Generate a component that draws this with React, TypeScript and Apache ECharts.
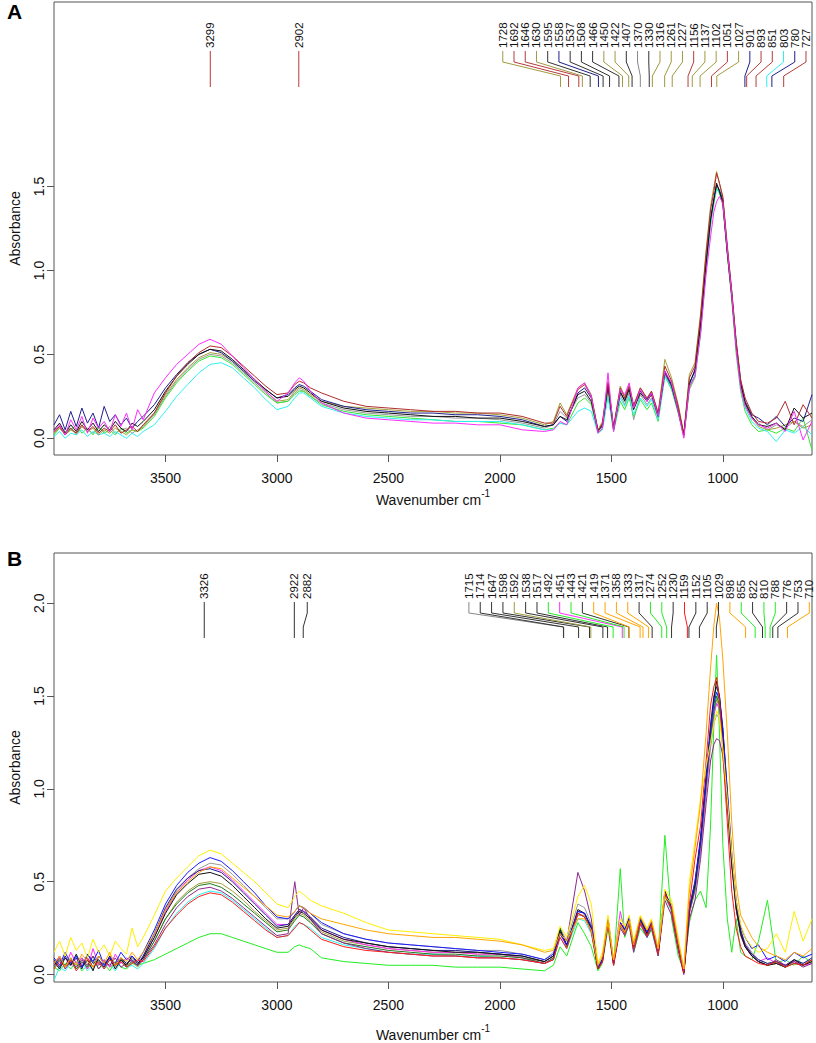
import React, { useEffect, useRef } from 'react';
import * as echarts from 'echarts';

// ---------- shared wavenumber grid (cm-1) ----------
const wavenumbers = [
  4000, 3975, 3950, 3925, 3900, 3875, 3850, 3825, 3800, 3775, 3750, 3725, 3700, 3675, 3650, 3625, 3600,
  3550, 3500, 3450, 3400, 3350, 3300, 3250, 3200, 3150, 3100, 3050, 3000,
  2950, 2920, 2900, 2880, 2850, 2800, 2700, 2600, 2500, 2400, 2300, 2200, 2100, 2000, 1900, 1800,
  1760, 1730, 1700, 1650, 1620, 1590, 1560, 1540, 1515, 1490,
  1460, 1440, 1420, 1400, 1370, 1340, 1320, 1290, 1260, 1230,
  1200, 1175, 1150, 1125, 1100, 1075, 1055, 1040, 1028, 1015,
  1000, 980, 960, 940, 920, 900, 870, 840, 800, 760,
  720, 680, 640, 600,
];

const xTicks = [3500, 3000, 2500, 2000, 1500, 1000];
const yTicksA = [0, 0.5, 1.0, 1.5];
const yTicksB = [0, 0.5, 1.0, 1.5, 2.0];

// ---------- Panel A spectra ----------
const A_gray = [
  0.03, 0.07, 0.04, 0.06, 0.02, 0.07, 0.05, 0.03, 0.06, 0.04, 0.07, 0.03, 0.05, 0.06, 0.03, 0.05, 0.07,
  0.14, 0.25, 0.34, 0.41, 0.47, 0.50, 0.49, 0.45, 0.39, 0.33, 0.27, 0.21,
  0.22, 0.27, 0.29, 0.28, 0.25, 0.21, 0.17, 0.15, 0.14, 0.13, 0.13, 0.12, 0.12, 0.11, 0.09, 0.06,
  0.08, 0.16, 0.12, 0.24, 0.26, 0.21, 0.04, 0.08, 0.28, 0.05,
  0.26, 0.20, 0.27, 0.11, 0.26, 0.20, 0.24, 0.12, 0.38, 0.30,
  0.15, 0.01, 0.29, 0.36, 0.63, 1.02, 1.29, 1.42, 1.51, 1.47,
  1.40, 1.11, 0.84, 0.54, 0.31, 0.20, 0.12, 0.09, 0.05, 0.08,
  0.06, 0.10, 0.07, 0.11,
];
const A_green = [
  0.02, 0.06, 0.03, 0.05, 0.08, 0.03, 0.06, 0.02, 0.07, 0.03, 0.05, 0.02, 0.06, 0.03, 0.05, 0.04, 0.06,
  0.13, 0.24, 0.33, 0.40, 0.46, 0.49, 0.48, 0.44, 0.38, 0.32, 0.26, 0.21,
  0.22, 0.26, 0.28, 0.28, 0.25, 0.20, 0.16, 0.14, 0.13, 0.12, 0.11, 0.10, 0.10, 0.09, 0.08, 0.05,
  0.06, 0.09, 0.08, 0.21, 0.24, 0.20, 0.03, 0.06, 0.26, 0.04,
  0.22, 0.17, 0.24, 0.13, 0.23, 0.17, 0.21, 0.10, 0.37, 0.29,
  0.15, 0.01, 0.30, 0.37, 0.62, 1.00, 1.27, 1.40, 1.49, 1.46,
  1.39, 1.10, 0.82, 0.50, 0.28, 0.16, 0.08, 0.04, 0.05, 0.03,
  0.06, 0.04, 0.12, -0.07,
];
const A_cyan = [
  0.01, 0.04, 0.00, 0.03, 0.02, 0.05, 0.01, 0.04, 0.02, 0.03, 0.01, 0.04, 0.02, 0.00, 0.03, 0.01, 0.04,
  0.08, 0.16, 0.25, 0.32, 0.39, 0.44, 0.45, 0.42, 0.36, 0.30, 0.23, 0.17,
  0.19, 0.24, 0.27, 0.27, 0.24, 0.19, 0.15, 0.13, 0.12, 0.11, 0.11, 0.10, 0.10, 0.10, 0.08, 0.05,
  0.05, 0.09, 0.08, 0.16, 0.18, 0.16, 0.03, 0.05, 0.25, 0.05,
  0.24, 0.19, 0.25, 0.14, 0.24, 0.19, 0.23, 0.11, 0.37, 0.30,
  0.16, 0.02, 0.31, 0.38, 0.64, 1.02, 1.28, 1.41, 1.48, 1.47,
  1.42, 1.14, 0.86, 0.53, 0.30, 0.18, 0.10, 0.06, 0.04, -0.02,
  0.05, 0.03, 0.07, 0.02,
];
const A_olive = [
  0.03, 0.06, 0.02, 0.05, 0.03, 0.07, 0.04, 0.06, 0.02, 0.05, 0.03, 0.06, 0.04, 0.02, 0.05, 0.04, 0.07,
  0.15, 0.26, 0.35, 0.42, 0.48, 0.51, 0.50, 0.46, 0.40, 0.34, 0.28, 0.22,
  0.23, 0.28, 0.30, 0.29, 0.26, 0.22, 0.19, 0.18, 0.17, 0.16, 0.16, 0.15, 0.15, 0.14, 0.12, 0.08,
  0.10, 0.21, 0.14, 0.30, 0.33, 0.26, 0.05, 0.10, 0.34, 0.07,
  0.31, 0.25, 0.32, 0.20, 0.30, 0.23, 0.28, 0.15, 0.47, 0.36,
  0.20, 0.03, 0.38, 0.45, 0.74, 1.12, 1.38, 1.50, 1.59, 1.52,
  1.43, 1.12, 0.85, 0.55, 0.32, 0.21, 0.12, 0.07, 0.05, 0.06,
  0.08, 0.10, 0.06, 0.08,
];
const A_navy = [
  0.08, 0.14, 0.05, 0.16, 0.07, 0.18, 0.09, 0.15, 0.06, 0.19, 0.10, 0.14, 0.08, 0.12, 0.06, 0.10, 0.13,
  0.20, 0.30, 0.38, 0.45, 0.50, 0.53, 0.51, 0.46, 0.40, 0.34, 0.29, 0.24,
  0.26, 0.30, 0.32, 0.31, 0.28, 0.23, 0.19, 0.17, 0.16, 0.15, 0.15, 0.14, 0.14, 0.13, 0.11, 0.07,
  0.08, 0.13, 0.10, 0.27, 0.30, 0.24, 0.05, 0.07, 0.31, 0.05,
  0.27, 0.23, 0.30, 0.19, 0.28, 0.23, 0.27, 0.14, 0.39, 0.31,
  0.16, 0.02, 0.32, 0.41, 0.67, 1.04, 1.31, 1.43, 1.51, 1.48,
  1.42, 1.13, 0.87, 0.57, 0.34, 0.22, 0.14, 0.12, 0.08, 0.13,
  0.07, 0.12, 0.10, 0.26,
];
const A_black = [
  0.05, 0.09, 0.03, 0.08, 0.04, 0.10, 0.05, 0.09, 0.04, 0.08, 0.05, 0.10, 0.06, 0.04, 0.09, 0.07, 0.10,
  0.17, 0.28, 0.37, 0.44, 0.50, 0.53, 0.52, 0.47, 0.41, 0.35, 0.29, 0.24,
  0.25, 0.29, 0.31, 0.30, 0.27, 0.22, 0.18, 0.16, 0.15, 0.14, 0.13, 0.13, 0.12, 0.12, 0.10, 0.07,
  0.08, 0.13, 0.11, 0.26, 0.28, 0.22, 0.04, 0.08, 0.32, 0.06,
  0.28, 0.22, 0.29, 0.17, 0.27, 0.22, 0.26, 0.13, 0.40, 0.32,
  0.17, 0.02, 0.33, 0.40, 0.68, 1.05, 1.30, 1.42, 1.52, 1.47,
  1.40, 1.10, 0.85, 0.55, 0.32, 0.21, 0.13, 0.08, 0.07, 0.09,
  0.05, 0.18, 0.12, 0.15,
];
const A_darkred = [
  0.04, 0.07, 0.02, 0.06, 0.03, 0.08, 0.04, 0.07, 0.03, 0.06, 0.04, 0.08, 0.03, 0.05, 0.07, 0.04, 0.08,
  0.15, 0.27, 0.37, 0.45, 0.51, 0.55, 0.54, 0.49, 0.43, 0.37, 0.31, 0.26,
  0.27, 0.32, 0.34, 0.33, 0.30, 0.27, 0.22, 0.19, 0.18, 0.17, 0.16, 0.16, 0.15, 0.15, 0.13, 0.09,
  0.09, 0.19, 0.13, 0.29, 0.32, 0.25, 0.04, 0.09, 0.33, 0.06,
  0.30, 0.24, 0.31, 0.19, 0.30, 0.24, 0.28, 0.15, 0.43, 0.34,
  0.19, 0.02, 0.36, 0.43, 0.72, 1.10, 1.36, 1.47, 1.58, 1.52,
  1.44, 1.15, 0.88, 0.58, 0.35, 0.24, 0.15, 0.10, 0.09, 0.12,
  0.22, 0.08, 0.20, 0.12,
];
const A_magenta = [
  0.04, 0.08, 0.02, 0.11, 0.05, 0.13, 0.03, 0.12, 0.06, 0.10, 0.04, 0.14, 0.07, 0.15, 0.05, 0.17, 0.11,
  0.27, 0.36, 0.44, 0.50, 0.56, 0.59, 0.56, 0.49, 0.42, 0.35, 0.28, 0.22,
  0.27, 0.33, 0.36, 0.34, 0.28, 0.21, 0.15, 0.12, 0.11, 0.10, 0.09, 0.09, 0.08, 0.08, 0.05, 0.04,
  0.05, 0.10, 0.08, 0.30, 0.33, 0.25, 0.03, 0.06, 0.39, 0.04,
  0.29, 0.26, 0.33, 0.18, 0.29, 0.22, 0.27, 0.13, 0.40, 0.33,
  0.16, 0.00, 0.31, 0.37, 0.62, 0.98, 1.20, 1.35, 1.41, 1.44,
  1.40, 1.12, 0.85, 0.53, 0.30, 0.19, 0.12, 0.08, 0.06, 0.09,
  0.04, 0.16, -0.01, 0.10,
];

// ---------- Panel B spectra ----------
const B_lime = [
  0.04, 0.02, 0.06, 0.03, 0.07, 0.02, 0.05, 0.08, 0.03, 0.06, 0.02, 0.07, 0.04, 0.03, 0.06, 0.05, 0.06,
  0.08, 0.11, 0.14, 0.17, 0.20, 0.22, 0.22, 0.20, 0.18, 0.16, 0.14, 0.12,
  0.12, 0.15, 0.16, 0.15, 0.14, 0.09, 0.07, 0.06, 0.05, 0.05, 0.05, 0.04, 0.04, 0.04, 0.03, 0.02,
  0.05, 0.15, 0.10, 0.28, 0.22, 0.15, 0.02, 0.06, 0.25, 0.05,
  0.57, 0.20, 0.27, 0.12, 0.25, 0.20, 0.24, 0.10, 0.75, 0.30,
  0.10, 0.02, 0.28, 0.40, 0.45, 0.36, 0.80, 1.35, 1.72, 1.30,
  0.70, 0.30, 0.12, 0.30, 0.12, 0.10, 0.08, 0.18, 0.40, 0.06,
  0.08, 0.05, 0.10, 0.06,
];
const B_cyan = [
  -0.03, 0.04, 0.02, 0.06, 0.03, 0.07, 0.02, 0.05, 0.08, 0.03, 0.06, 0.02, 0.07, 0.04, 0.05, 0.03, 0.06,
  0.14, 0.25, 0.33, 0.39, 0.43, 0.45, 0.44, 0.40, 0.35, 0.30, 0.25, 0.20,
  0.21, 0.26, 0.28, 0.27, 0.25, 0.20, 0.16, 0.14, 0.12, 0.11, 0.11, 0.10, 0.10, 0.09, 0.08, 0.06,
  0.08, 0.20, 0.14, 0.30, 0.29, 0.22, 0.03, 0.07, 0.28, 0.05,
  0.26, 0.22, 0.28, 0.13, 0.28, 0.20, 0.26, 0.10, 0.42, 0.34,
  0.14, 0.01, 0.33, 0.45, 0.66, 1.00, 1.27, 1.40, 1.46, 1.44,
  1.30, 0.97, 0.62, 0.37, 0.23, 0.16, 0.10, 0.07, 0.05, 0.06,
  0.04, 0.07, 0.05, 0.07,
];
const B_gray = [
  0.06, 0.10, 0.04, 0.08, 0.05, 0.09, 0.06, 0.03, 0.08, 0.05, 0.10, 0.04, 0.07, 0.05, 0.09, 0.06, 0.10,
  0.22, 0.35, 0.45, 0.52, 0.57, 0.60, 0.59, 0.54, 0.48, 0.42, 0.36, 0.30,
  0.30, 0.34, 0.37, 0.36, 0.33, 0.27, 0.22, 0.19, 0.17, 0.16, 0.15, 0.14, 0.13, 0.13, 0.11, 0.08,
  0.12, 0.25, 0.18, 0.38, 0.36, 0.27, 0.04, 0.09, 0.30, 0.07,
  0.28, 0.24, 0.30, 0.16, 0.30, 0.23, 0.28, 0.13, 0.44, 0.36,
  0.16, 0.02, 0.33, 0.45, 0.66, 0.98, 1.22, 1.35, 1.40, 1.38,
  1.26, 0.95, 0.62, 0.38, 0.24, 0.17, 0.12, 0.08, 0.06, 0.07,
  0.05, 0.08, 0.06, 0.08,
];
const B_olive = [
  0.05, 0.08, 0.04, 0.07, 0.05, 0.09, 0.03, 0.07, 0.05, 0.08, 0.04, 0.06, 0.08, 0.05, 0.07, 0.04, 0.08,
  0.18, 0.30, 0.39, 0.45, 0.49, 0.50, 0.49, 0.45, 0.40, 0.34, 0.29, 0.24,
  0.25, 0.30, 0.33, 0.32, 0.29, 0.23, 0.18, 0.16, 0.14, 0.13, 0.12, 0.12, 0.11, 0.11, 0.09, 0.07,
  0.10, 0.23, 0.16, 0.32, 0.32, 0.26, 0.03, 0.08, 0.29, 0.06,
  0.27, 0.23, 0.29, 0.14, 0.29, 0.21, 0.27, 0.11, 0.42, 0.35,
  0.14, 0.01, 0.34, 0.47, 0.70, 1.02, 1.28, 1.42, 1.48, 1.44,
  1.28, 0.95, 0.61, 0.36, 0.23, 0.16, 0.10, 0.07, 0.05, 0.06,
  0.04, 0.07, 0.05, 0.07,
];
const B_magenta = [
  0.05, 0.10, 0.04, 0.12, 0.06, 0.09, 0.03, 0.14, 0.05, 0.08, 0.04, 0.11, 0.06, 0.09, 0.07, 0.05, 0.09,
  0.20, 0.34, 0.44, 0.51, 0.56, 0.58, 0.56, 0.51, 0.45, 0.39, 0.33, 0.27,
  0.27, 0.32, 0.35, 0.34, 0.31, 0.24, 0.19, 0.16, 0.14, 0.13, 0.12, 0.12, 0.11, 0.11, 0.09, 0.06,
  0.09, 0.22, 0.15, 0.33, 0.31, 0.24, 0.03, 0.07, 0.28, 0.06,
  0.34, 0.23, 0.29, 0.14, 0.29, 0.21, 0.27, 0.11, 0.43, 0.35,
  0.14, 0.01, 0.33, 0.46, 0.68, 1.00, 1.26, 1.40, 1.46, 1.43,
  1.28, 0.96, 0.62, 0.37, 0.23, 0.16, 0.11, 0.07, 0.09, 0.06,
  0.05, 0.07, 0.05, 0.06,
];
const B_darkgreen = [
  0.04, 0.08, 0.05, 0.09, 0.03, 0.07, 0.04, 0.10, 0.06, 0.04, 0.08, 0.05, 0.09, 0.04, 0.07, 0.05, 0.08,
  0.18, 0.30, 0.38, 0.44, 0.48, 0.49, 0.47, 0.43, 0.38, 0.33, 0.28, 0.23,
  0.24, 0.29, 0.32, 0.31, 0.28, 0.22, 0.17, 0.15, 0.13, 0.12, 0.11, 0.11, 0.10, 0.10, 0.09, 0.06,
  0.09, 0.25, 0.15, 0.33, 0.31, 0.24, 0.03, 0.07, 0.29, 0.06,
  0.27, 0.23, 0.29, 0.14, 0.29, 0.21, 0.27, 0.11, 0.43, 0.35,
  0.14, 0.01, 0.34, 0.46, 0.70, 1.02, 1.28, 1.42, 1.50, 1.45,
  1.28, 0.94, 0.60, 0.35, 0.22, 0.15, 0.10, 0.07, 0.05, 0.07,
  0.04, 0.06, 0.05, 0.08,
];
const B_navy = [
  0.08, 0.04, 0.10, 0.05, 0.09, 0.03, 0.11, 0.06, 0.08, 0.04, 0.10, 0.05, 0.09, 0.06, 0.08, 0.05, 0.10,
  0.22, 0.36, 0.46, 0.52, 0.56, 0.57, 0.55, 0.50, 0.44, 0.38, 0.32, 0.26,
  0.27, 0.32, 0.35, 0.34, 0.31, 0.25, 0.20, 0.17, 0.15, 0.14, 0.13, 0.13, 0.12, 0.11, 0.10, 0.07,
  0.10, 0.23, 0.16, 0.34, 0.33, 0.25, 0.03, 0.08, 0.30, 0.06,
  0.28, 0.24, 0.30, 0.15, 0.30, 0.22, 0.28, 0.12, 0.44, 0.36,
  0.15, 0.01, 0.36, 0.50, 0.74, 1.07, 1.35, 1.50, 1.55, 1.50,
  1.33, 0.98, 0.63, 0.38, 0.24, 0.16, 0.11, 0.08, 0.06, 0.07,
  0.05, 0.08, 0.06, 0.09,
];
const B_purple = [
  0.05, 0.09, 0.03, 0.07, 0.04, 0.08, 0.05, 0.10, 0.03, 0.07, 0.05, 0.09, 0.04, 0.06, 0.08, 0.05, 0.08,
  0.16, 0.27, 0.36, 0.42, 0.46, 0.47, 0.45, 0.41, 0.36, 0.31, 0.26, 0.21,
  0.22, 0.50, 0.32, 0.36, 0.30, 0.22, 0.17, 0.14, 0.12, 0.11, 0.10, 0.10, 0.09, 0.09, 0.08, 0.06,
  0.08, 0.22, 0.18, 0.55, 0.45, 0.30, 0.03, 0.07, 0.27, 0.05,
  0.25, 0.21, 0.27, 0.12, 0.27, 0.20, 0.25, 0.10, 0.40, 0.32,
  0.13, 0.00, 0.30, 0.40, 0.62, 0.92, 1.15, 1.24, 1.27, 1.26,
  1.18, 0.90, 0.58, 0.35, 0.21, 0.15, 0.10, 0.07, 0.05, 0.08,
  0.05, 0.07, 0.04, 0.06,
];
const B_black = [
  0.07, 0.03, 0.09, 0.05, 0.11, 0.04, 0.08, 0.02, 0.10, 0.06, 0.09, 0.03, 0.08, 0.05, 0.10, 0.06, 0.09,
  0.20, 0.33, 0.43, 0.49, 0.54, 0.55, 0.53, 0.48, 0.42, 0.36, 0.30, 0.25,
  0.26, 0.31, 0.34, 0.33, 0.30, 0.24, 0.19, 0.17, 0.15, 0.14, 0.13, 0.12, 0.12, 0.11, 0.10, 0.07,
  0.10, 0.24, 0.16, 0.35, 0.33, 0.25, 0.03, 0.08, 0.30, 0.06,
  0.28, 0.24, 0.30, 0.15, 0.30, 0.22, 0.28, 0.12, 0.45, 0.36,
  0.15, 0.01, 0.35, 0.48, 0.72, 1.05, 1.32, 1.48, 1.58, 1.50,
  1.30, 0.95, 0.60, 0.36, 0.22, 0.15, 0.10, 0.07, 0.05, 0.06,
  0.04, 0.08, 0.05, 0.07,
];
const B_blue = [
  0.09, 0.05, 0.12, 0.06, 0.10, 0.04, 0.11, 0.07, 0.13, 0.05, 0.09, 0.06, 0.12, 0.08, 0.10, 0.07, 0.12,
  0.24, 0.38, 0.48, 0.55, 0.60, 0.63, 0.61, 0.56, 0.50, 0.44, 0.37, 0.31,
  0.30, 0.34, 0.37, 0.36, 0.33, 0.28, 0.22, 0.19, 0.17, 0.16, 0.15, 0.14, 0.13, 0.12, 0.11, 0.08,
  0.11, 0.22, 0.16, 0.34, 0.33, 0.26, 0.04, 0.08, 0.30, 0.07,
  0.28, 0.24, 0.31, 0.16, 0.30, 0.23, 0.28, 0.12, 0.44, 0.36,
  0.15, 0.02, 0.36, 0.50, 0.72, 1.05, 1.32, 1.46, 1.52, 1.48,
  1.32, 1.00, 0.66, 0.40, 0.26, 0.20, 0.14, 0.16, 0.08, 0.10,
  0.07, 0.12, 0.09, 0.11,
];
const B_red = [
  0.03, 0.07, 0.04, 0.08, 0.02, 0.06, 0.09, 0.04, 0.07, 0.03, 0.08, 0.05, 0.07, 0.04, 0.06, 0.08, 0.07,
  0.15, 0.25, 0.32, 0.38, 0.42, 0.44, 0.43, 0.39, 0.34, 0.29, 0.24, 0.20,
  0.21, 0.25, 0.28, 0.27, 0.24, 0.19, 0.15, 0.13, 0.12, 0.11, 0.10, 0.10, 0.09, 0.09, 0.08, 0.06,
  0.08, 0.20, 0.14, 0.33, 0.31, 0.23, 0.03, 0.07, 0.29, 0.05,
  0.27, 0.22, 0.29, 0.14, 0.28, 0.21, 0.27, 0.11, 0.44, 0.35,
  0.14, 0.01, 0.38, 0.62, 0.80, 1.15, 1.45, 1.55, 1.60, 1.48,
  1.20, 0.82, 0.45, 0.25, 0.15, 0.10, 0.08, 0.06, 0.05, 0.07,
  0.04, 0.06, 0.05, 0.08,
];
const B_yellow = [
  0.12, 0.18, 0.10, 0.20, 0.13, 0.17, 0.09, 0.19, 0.12, 0.16, 0.10, 0.18, 0.14, 0.11, 0.25, 0.15, 0.20,
  0.32, 0.45, 0.52, 0.58, 0.64, 0.67, 0.65, 0.60, 0.55, 0.50, 0.44, 0.38,
  0.36, 0.42, 0.45, 0.43, 0.40, 0.37, 0.33, 0.28, 0.24, 0.23, 0.22, 0.21, 0.20, 0.19, 0.16, 0.13,
  0.14, 0.26, 0.20, 0.42, 0.48, 0.38, 0.06, 0.12, 0.32, 0.08,
  0.30, 0.26, 0.32, 0.18, 0.32, 0.25, 0.30, 0.14, 0.46, 0.40,
  0.20, 0.03, 0.50, 0.72, 0.95, 1.12, 1.25, 1.35, 1.42, 1.38,
  1.22, 0.95, 0.65, 0.40, 0.27, 0.20, 0.15, 0.12, 0.14, 0.22,
  0.12, 0.34, 0.18, 0.30,
];
const B_orange = [
  0.06, 0.10, 0.04, 0.09, 0.05, 0.11, 0.07, 0.04, 0.10, 0.06, 0.12, 0.05, 0.09, 0.07, 0.12, 0.08, 0.12,
  0.22, 0.35, 0.44, 0.50, 0.55, 0.58, 0.57, 0.52, 0.47, 0.42, 0.37, 0.32,
  0.31, 0.34, 0.37, 0.36, 0.33, 0.30, 0.27, 0.24, 0.22, 0.21, 0.20, 0.20, 0.19, 0.18, 0.16, 0.12,
  0.13, 0.22, 0.18, 0.30, 0.30, 0.24, 0.05, 0.10, 0.28, 0.08,
  0.27, 0.23, 0.29, 0.16, 0.31, 0.24, 0.29, 0.14, 0.42, 0.38,
  0.18, 0.03, 0.45, 0.68, 0.92, 1.30, 1.65, 1.88, 2.00, 1.92,
  1.70, 1.30, 0.82, 0.48, 0.32, 0.27, 0.20, 0.15, 0.12, 0.10,
  0.08, 0.12, 0.10, 0.14,
];

// ---------- peak annotations ----------
const peaksA_left1 = [3299];
const peaksA_left2 = [2902];
const peaksA_right = [1728, 1692, 1646, 1630, 1595, 1558, 1537, 1508, 1466, 1450, 1422, 1407, 1370, 1330, 1316, 1261, 1227, 1156, 1137, 1102, 1051, 1027, 901, 893, 851, 803, 780, 727];
const peakColorsA_right = ['olive', 'darkred', 'darkred', 'olive', 'black', 'navy', 'black', 'black', 'black', 'olive', 'olive', 'black', 'gray', 'black', 'olive', 'olive', 'olive', 'darkred', 'olive', 'olive', 'darkred', 'olive', 'navy', 'darkred', 'darkred', 'cyan', 'navy', 'darkred'];

const peaksB_left1 = [3326];
const peaksB_left2 = [2922, 2882];
const peaksB_right = [1715, 1714, 1647, 1598, 1592, 1538, 1517, 1492, 1451, 1443, 1421, 1419, 1371, 1358, 1333, 1317, 1274, 1252, 1230, 1159, 1152, 1105, 1029, 898, 855, 822, 810, 788, 776, 753, 710];
const peakColorsB_right = ['gray', 'black', 'black', 'black', 'olive', 'black', 'black', 'lime', 'magenta', 'lime', 'black', 'orange', 'orange', 'orange', 'orange', 'black', 'lime', 'lime', 'black', 'red', 'black', 'black', 'black', 'orange', 'lime', 'black', 'lime', 'lime', 'black', 'black', 'orange'];

// ---------- styles / layout ----------
const FONT = '"Liberation Sans", Arial, Helvetica, sans-serif';
const lineColors: Record<string, string> = {
  black: '#111111', gray: '#999999', navy: '#1f1f8f', darkred: '#b22b2b', olive: '#a39e3a',
  green: '#33e833', cyan: '#2ef0f0', magenta: '#ff2bff', lime: '#22ee22', red: '#ff1a1a',
  blue: '#1a1aff', yellow: '#ffee00', orange: '#ffa500', purple: '#8b2a8b', darkgreen: '#1f7a1f',
};
const leaderColors: Record<string, string> = {
  ...lineColors, black: '#333333', gray: '#888888', darkred: '#b83a3a', olive: '#a09a40',
};

const layout = {
  left: 52, right: 4,
  A: { top: 2, height: 453, yMin: -0.1, yMax: 2.6, nameGap: 33 },
  B: { top: 553, height: 431, yMin: -0.04, yMax: 2.27, nameGap: 41 },
  leader: { textBottom: 46, lineTop: 49, bend1: 60, bend2: 74, bottom: 85 },
};

const seriesA = [
  { name: 'A-gray', color: 'gray', values: A_gray },
  { name: 'A-green', color: 'green', values: A_green },
  { name: 'A-cyan', color: 'cyan', values: A_cyan },
  { name: 'A-olive', color: 'olive', values: A_olive },
  { name: 'A-navy', color: 'navy', values: A_navy },
  { name: 'A-black', color: 'black', values: A_black },
  { name: 'A-darkred', color: 'darkred', values: A_darkred },
  { name: 'A-magenta', color: 'magenta', values: A_magenta },
];
const seriesB = [
  { name: 'B-lime', color: 'lime', values: B_lime },
  { name: 'B-cyan', color: 'cyan', values: B_cyan },
  { name: 'B-gray', color: 'gray', values: B_gray },
  { name: 'B-olive', color: 'olive', values: B_olive },
  { name: 'B-magenta', color: 'magenta', values: B_magenta },
  { name: 'B-darkgreen', color: 'darkgreen', values: B_darkgreen },
  { name: 'B-navy', color: 'navy', values: B_navy },
  { name: 'B-purple', color: 'purple', values: B_purple },
  { name: 'B-black', color: 'black', values: B_black },
  { name: 'B-blue', color: 'blue', values: B_blue },
  { name: 'B-red', color: 'red', values: B_red },
  { name: 'B-yellow', color: 'yellow', values: B_yellow },
  { name: 'B-orange', color: 'orange', values: B_orange },
];

// label spans (data units along x) for spread-out peak labels
const peakGroupsA = [
  { peaks: peaksA_left1, colors: ['darkred'], span: null as null | number[] },
  { peaks: peaksA_left2, colors: ['darkred'], span: null as null | number[] },
  { peaks: peaksA_right, colors: peakColorsA_right, span: [1987, 627] },
];
const peakGroupsB = [
  { peaks: peaksB_left1, colors: ['black'], span: null as null | number[] },
  { peaks: peaksB_left2, colors: ['black', 'black'], span: [2922, 2864] },
  { peaks: peaksB_right, colors: peakColorsB_right, span: [2139, 612] },
];

function buildPeakItems(groups: typeof peakGroupsA) {
  const items: { labelW: number; peakW: number; color: string; text: string }[] = [];
  groups.forEach((g) => {
    const n = g.peaks.length;
    g.peaks.forEach((p, i) => {
      let lw = p;
      if (g.span) lw = n > 1 ? g.span[0] + (i * (g.span[1] - g.span[0])) / (n - 1) : g.span[0];
      items.push({ labelW: lw, peakW: p, color: leaderColors[g.colors[i]] || '#333', text: String(p) });
    });
  });
  return items;
}

function peakSeries(groups: typeof peakGroupsA, idx: number) {
  const items = buildPeakItems(groups);
  const L = layout.leader;
  return {
    type: 'custom',
    xAxisIndex: idx,
    yAxisIndex: idx,
    silent: true,
    clip: false,
    z: 10,
    data: items.map((it) => [it.labelW, it.peakW]),
    renderItem: (params: any, api: any) => {
      const it = items[params.dataIndex];
      const lx = api.coord([api.value(0), 0])[0];
      const px = api.coord([api.value(1), 0])[0];
      const top = params.coordSys.y;
      return {
        type: 'group',
        children: [
          {
            type: 'polyline',
            shape: { points: [[lx, top + L.lineTop], [lx, top + L.bend1], [px, top + L.bend2], [px, top + L.bottom]] },
            style: { stroke: it.color, lineWidth: 1, fill: null },
          },
          {
            type: 'text',
            x: lx,
            y: top + L.textBottom,
            rotation: Math.PI / 2,
            style: { text: it.text, fill: '#111', font: `11.5px ${FONT}`, align: 'left', verticalAlign: 'middle' },
          },
        ],
      };
    },
  };
}

function lineSeries(list: typeof seriesA, idx: number) {
  return list.map((s) => ({
    type: 'line',
    name: s.name,
    xAxisIndex: idx,
    yAxisIndex: idx,
    data: wavenumbers.map((w, i) => [w, s.values[i]]),
    showSymbol: false,
    symbol: 'none',
    silent: true,
    lineStyle: { width: 1, color: lineColors[s.color] },
    itemStyle: { color: lineColors[s.color] },
    z: 2,
  }));
}

function xAxis(idx: number, gap: number) {
  return {
    type: 'value',
    gridIndex: idx,
    min: 600,
    max: 4000,
    inverse: true,
    axisLine: { show: false, onZero: false },
    splitLine: { show: false },
    axisTick: { show: true, length: 7, lineStyle: { color: '#555' }, customValues: xTicks },
    axisLabel: {
      customValues: xTicks,
      margin: 16,
      fontSize: 14,
      color: '#111',
      fontFamily: FONT,
      formatter: (v: number) => String(v),
    },
    name: '{a|Wavenumber cm}{b|-1}',
    nameLocation: 'middle',
    nameGap: gap,
    nameTextStyle: {
      color: '#111',
      fontFamily: FONT,
      rich: {
        a: { fontSize: 14, lineHeight: 24, fontFamily: FONT, color: '#111' },
        b: { fontSize: 10, verticalAlign: 'top', fontFamily: FONT, color: '#111' },
      },
    },
  };
}

function yAxis(idx: number, min: number, max: number, ticks: number[]) {
  return {
    type: 'value',
    gridIndex: idx,
    min,
    max,
    axisLine: { show: false, onZero: false },
    splitLine: { show: false },
    axisTick: { show: true, length: 7, lineStyle: { color: '#555' }, customValues: ticks },
    axisLabel: {
      customValues: ticks,
      rotate: 90,
      margin: 8,
      fontSize: 14,
      color: '#111',
      fontFamily: FONT,
      formatter: (v: number) => v.toFixed(1),
    },
    name: 'Absorbance',
    nameLocation: 'middle',
    nameGap: 32,
    nameTextStyle: { fontSize: 14, color: '#111', fontFamily: FONT },
  };
}

const option: any = {
  animation: false,
  backgroundColor: '#fff',
  grid: [
    { left: layout.left, right: layout.right, top: layout.A.top, height: layout.A.height, show: true, borderColor: '#555', borderWidth: 1, backgroundColor: 'transparent' },
    { left: layout.left, right: layout.right, top: layout.B.top, height: layout.B.height, show: true, borderColor: '#555', borderWidth: 1, backgroundColor: 'transparent' },
  ],
  xAxis: [xAxis(0, layout.A.nameGap), xAxis(1, layout.B.nameGap)],
  yAxis: [
    yAxis(0, layout.A.yMin, layout.A.yMax, yTicksA),
    yAxis(1, layout.B.yMin, layout.B.yMax, yTicksB),
  ],
  graphic: [
    { type: 'text', left: 7, top: 1, style: { text: 'A', font: `bold 21px ${FONT}`, fill: '#000' } },
    { type: 'text', left: 7, top: 548, style: { text: 'B', font: `bold 21px ${FONT}`, fill: '#000' } },
  ],
  series: [
    ...lineSeries(seriesA, 0),
    ...lineSeries(seriesB, 1),
    peakSeries(peakGroupsA, 0),
    peakSeries(peakGroupsB, 1),
  ],
};

export default function App() {
  const ref = useRef<HTMLDivElement>(null);
  useEffect(() => {
    if (!ref.current) return;
    const chart = echarts.init(ref.current, null, { renderer: 'svg' });
    chart.setOption(option);
    return () => chart.dispose();
  }, []);
  return (
    <div
      ref={ref}
      style={{ position: 'absolute', left: 0, top: 0, width: 816, height: 1043, background: '#fff' }}
    />
  );
}
